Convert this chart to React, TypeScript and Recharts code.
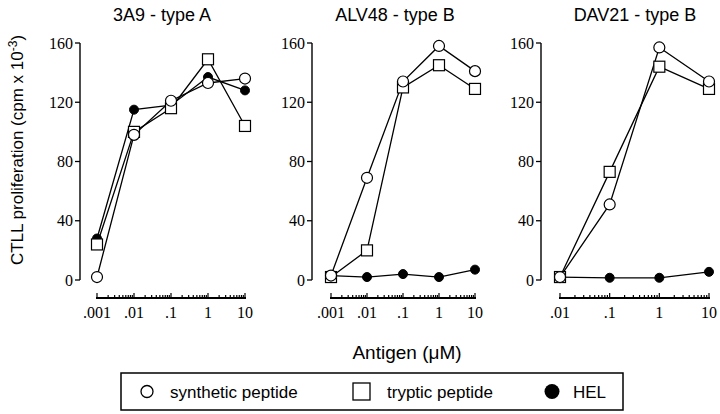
import React from "react";
import { LineChart, Line, XAxis, YAxis } from "recharts";

// antigen concentrations (µM) per panel
const conc1 = [0.001, 0.01, 0.1, 1, 10];
const conc2 = [0.001, 0.01, 0.1, 1, 10];
const conc3 = [0.01, 0.1, 1, 10];

// CTLL proliferation (cpm x 10^-3)
const synth1 = [2, 98, 121, 133, 136];
const tryp1 = [24, 100, 116, 149, 104];
const hel1 = [28, 115, 118, 137, 128];

const synth2 = [3, 69, 134, 158, 141];
const tryp2 = [2, 20, 130, 145, 129];
const hel2 = [3, 2, 4, 2, 7];

const synth3 = [2, 51, 157, 134];
const tryp3 = [2, 73, 144, 129];
const hel3 = [2, 1.5, 1.5, 5.5];

const titles = ["3A9 - type A", "ALV48 - type B", "DAV21 - type B"];
const yTicks = [0, 40, 80, 120, 160];
const decades1 = [0.001, 0.01, 0.1, 1, 10];
const decades3 = [0.01, 0.1, 1, 10];
const decadeLabels = [".001", ".01", ".1", "1", "10"];
const minorSteps = [2, 3, 4, 5, 6, 7, 8, 9];

const SERIF = "'Liberation Serif', 'Times New Roman', serif";
const SANS = "'Liberation Sans', Arial, sans-serif";

const withMinors = (decades: number[]) => {
  const out: number[] = [];
  decades.forEach((d, i) => {
    out.push(d);
    if (i < decades.length - 1) minorSteps.forEach((m) => out.push(+(m * d).toPrecision(3)));
  });
  return out;
};

const labelFor = (v: number) => {
  const i = decades1.findIndex((d) => Math.abs(d - v) / d < 1e-6);
  return i >= 0 ? decadeLabels[i] : null;
};

// log axis tick: short minor marks, longer decade marks pointing up, serif labels
const LogTick = (props: any) => {
  const { x, y, payload, index, span } = props;
  const label = labelFor(payload.value);
  return (
    <g>
      {index === 0 && (
        <line x1={x - 0.7} x2={x + span + 0.7} y1={y} y2={y} stroke="#000" strokeWidth={2} shapeRendering="crispEdges" />
      )}
      <line x1={x} x2={x} y1={y} y2={y - (label ? 5 : 3)} stroke="#000" strokeWidth={1.2} />
      {label && (
        <text x={x} y={y + 20} textAnchor="middle" fontFamily={SERIF} fontSize={16} fill="#000">
          {label}
        </text>
      )}
    </g>
  );
};

const SquareDot = (props: any) => {
  const { cx, cy, index } = props;
  if (cx == null || cy == null) return <g key={index} />;
  return (
    <rect key={index} x={cx - 5.5} y={cy - 5.5} width={11} height={11} fill="#fff" stroke="#000" strokeWidth={1.2} />
  );
};

type PanelProps = {
  conc: number[];
  synth: number[];
  tryp: number[];
  hel: number[];
  decades: number[];
  left: number;
  yAxisX: number;
  xStart: number;
  xEnd: number;
};

function Panel({ conc, synth, tryp, hel, decades, left, yAxisX, xStart, xEnd }: PanelProps) {
  const data = conc.map((c, i) => ({ c, synth: synth[i], tryp: tryp[i], hel: hel[i] }));
  const width = xEnd - left + 10;
  return (
    <div style={{ position: "absolute", left, top: 0 }}>
      <LineChart width={width} height={332} data={data} margin={{ top: 43, right: 10, bottom: 0, left: 0 }}>
        {/* spacer axes push the real axes away from the plot, as in the original */}
        <XAxis xAxisId="sp" type="number" domain={[0, 1]} height={18} axisLine={false} tickLine={false} tick={false} />
        <XAxis
          xAxisId="x"
          dataKey="c"
          type="number"
          scale="log"
          domain={[decades[0], decades[decades.length - 1]]}
          ticks={withMinors(decades)}
          interval={0}
          tickSize={0}
          tickMargin={0}
          tickLine={false}
          tick={<LogTick span={xEnd - xStart} />}
          axisLine={{ stroke: "#000", strokeWidth: 2 }}
          height={34}
        />
        <YAxis yAxisId="sp" type="number" domain={[0, 1]} width={xStart - yAxisX} axisLine={false} tickLine={false} tick={false} />
        <YAxis
          yAxisId="y"
          type="number"
          domain={[0, 160]}
          ticks={yTicks}
          width={yAxisX - left}
          tickSize={5}
          tickMargin={2}
          axisLine={{ stroke: "#000", strokeWidth: 1.4 }}
          tickLine={{ stroke: "#000", strokeWidth: 1.3 }}
          tick={{ fill: "#000", fontFamily: SERIF, fontSize: 16 }}
        />
        <Line
          xAxisId="x"
          yAxisId="y"
          dataKey="hel"
          stroke="#000"
          strokeWidth={1.3}
          dot={{ r: 4.5, fill: "#000", stroke: "#000", strokeWidth: 1 }}
          activeDot={false}
          isAnimationActive={false}
        />
        <Line
          xAxisId="x"
          yAxisId="y"
          dataKey="tryp"
          stroke="#000"
          strokeWidth={1.3}
          dot={<SquareDot />}
          activeDot={false}
          isAnimationActive={false}
        />
        <Line
          xAxisId="x"
          yAxisId="y"
          dataKey="synth"
          stroke="#000"
          strokeWidth={1.3}
          dot={{ r: 5.5, fill: "#fff", stroke: "#000", strokeWidth: 1.2 }}
          activeDot={false}
          isAnimationActive={false}
        />
      </LineChart>
    </div>
  );
}

export default function App() {
  return (
    <div style={{ position: "absolute", left: 0, top: 0, width: 720, height: 414, background: "#fff" }}>
      <Panel conc={conc1} synth={synth1} tryp={tryp1} hel={hel1} decades={decades1} left={40} yAxisX={80} xStart={97} xEnd={245} />
      <Panel conc={conc2} synth={synth2} tryp={tryp2} hel={hel2} decades={decades1} left={272} yAxisX={312} xStart={331} xEnd={475} />
      <Panel conc={conc3} synth={synth3} tryp={tryp3} hel={hel3} decades={decades3} left={501} yAxisX={541} xStart={560} xEnd={709} />
      <svg width={720} height={414} style={{ position: "absolute", left: 0, top: 0, pointerEvents: "none" }}>
        <g fontFamily={SANS} fill="#000">
          <text x={162} y={21} fontSize={18} textAnchor="middle">{titles[0]}</text>
          <text x={395} y={21} fontSize={18} textAnchor="middle">{titles[1]}</text>
          <text x={635} y={21} fontSize={18} textAnchor="middle">{titles[2]}</text>
          <text transform="rotate(-90)" x={-150} y={23} fontSize={17} textAnchor="middle">
            CTLL proliferation (cpm x 10<tspan dy={-6} fontSize={12}>-3</tspan>
            <tspan dy={6}>)</tspan>
          </text>
          <text x={407} y={359} fontSize={19} textAnchor="middle">Antigen (μM)</text>
          <rect x={121} y={373} width={502} height={37} fill="#fff" stroke="#000" strokeWidth={1.5} />
          <circle cx={147} cy={391.5} r={6} fill="#fff" stroke="#000" strokeWidth={1.3} />
          <text x={170} y={397.5} fontSize={17}>synthetic peptide</text>
          <rect x={353} y={383} width={17} height={17} fill="#fff" stroke="#000" strokeWidth={1.3} />
          <text x={387} y={397.5} fontSize={17}>tryptic peptide</text>
          <circle cx={552} cy={391.5} r={7.5} fill="#000" />
          <text x={573} y={397.5} fontSize={17}>HEL</text>
        </g>
      </svg>
    </div>
  );
}
